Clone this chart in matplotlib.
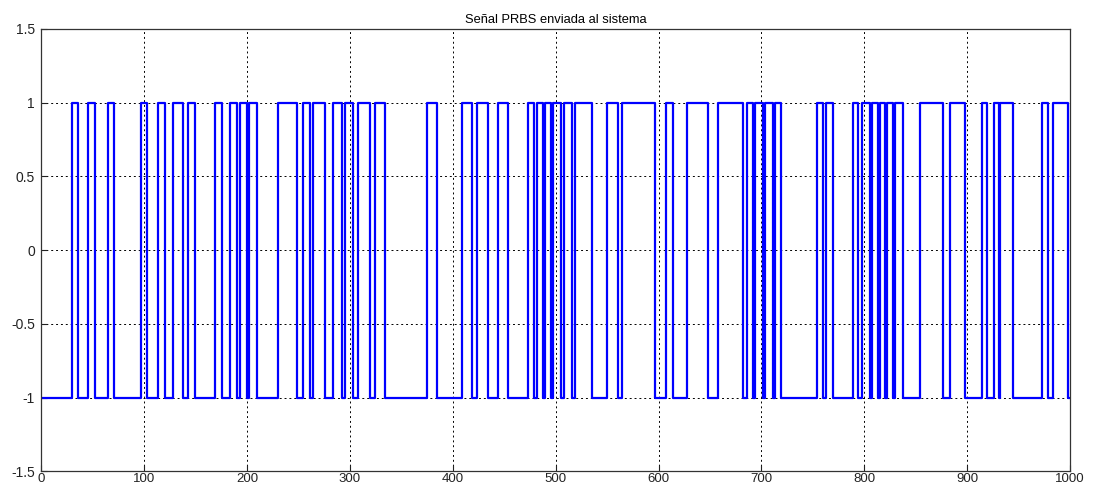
import numpy as np
import matplotlib.pyplot as plt

plt.rcParams['font.family'] = ['Liberation Sans', 'DejaVu Sans']

# PRBS high intervals (start, end), in samples
rise = [29.5, 45.7, 64.5, 96.9, 113.7, 128.3, 142.9, 168.9, 183.4, 193.2,
        202.2, 230.4, 254.7, 264.4, 283.9, 295.2, 308.2, 324.4, 374.6, 408.7,
        423.3, 444.2, 473.4, 482.0, 490.0, 497.4, 508.0, 518.8, 549.6, 564.2,
        607.5, 627.4, 658.1, 685.7, 693.9, 703.5, 713.5, 753.8, 762.8, 789.3,
        797.5, 807.2, 815.5, 821.8, 830.0, 854.2, 883.1, 914.2, 925.7, 932.1,
        972.5, 983.8]
fall = [36.0, 52.2, 71.0, 103.0, 120.2, 138.0, 149.4, 175.4, 190.0, 199.5,
        209.7, 248.9, 261.2, 275.8, 292.6, 303.3, 319.5, 334.1, 385.0, 418.4,
        434.5, 454.0, 479.2, 488.0, 495.5, 505.2, 515.8, 535.3, 560.9, 596.6,
        614.0, 648.4, 682.4, 692.1, 701.9, 711.5, 719.5, 760.2, 769.9, 794.2,
        805.6, 813.6, 820.2, 828.3, 838.0, 876.9, 897.7, 919.0, 930.6, 944.9,
        978.9, 998.4]
n_samples = 1000
low, high = -1, 1

# build the square wave from the edges
t = [0]
u = [low]
for r, f in zip(rise, fall):
    t += [r, r, f, f]
    u += [low, high, high, low]
t.append(n_samples)
u.append(low)

fig = plt.figure(figsize=(10.99, 4.88), dpi=100)
ax = fig.add_axes([0.0376, 0.034, 0.9360, 0.9066])
ax.plot(t, u, color=(0, 0, 1), linewidth=1.6)

ax.set_xlim(0, 1000)
ax.set_ylim(-1.5, 1.5)
ax.set_xticks(np.arange(0, 1001, 100))
ax.set_yticks([-1.5, -1, -0.5, 0, 0.5, 1, 1.5])
ax.set_yticklabels(['-1.5', '-1', '-0.5', '0', '0.5', '1', '1.5'])
ax.tick_params(direction='in', labelsize=10, length=4, colors='#222222')
ax.tick_params(axis='y', pad=4.5)
ax.tick_params(axis='x', pad=1.5, labelsize=9.5)
ax.grid(True, color='black', linestyle=(0, (2, 3)), linewidth=0.7)
for s in ax.spines.values():
    s.set_color('#333333')
    s.set_linewidth(0.9)
ax.set_title('Señal PRBS enviada al sistema', fontsize=9.3, pad=4)

fig.savefig('out.png', dpi=100)
